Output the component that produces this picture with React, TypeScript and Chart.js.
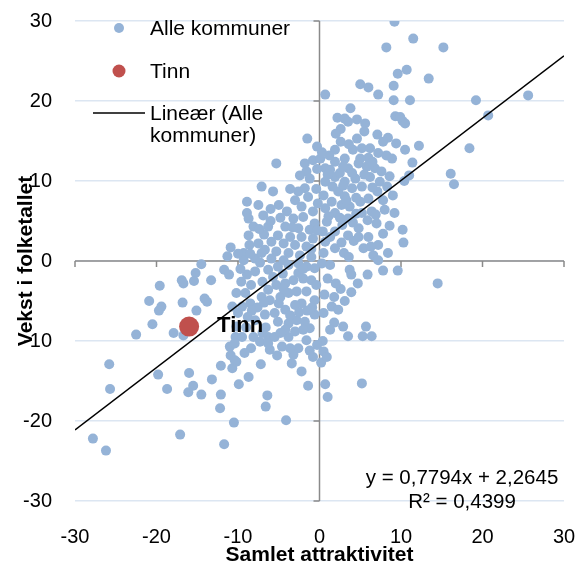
import React, { useEffect, useRef } from "react";
import { Chart, registerables } from "chart.js";

Chart.register(...registerables);

const axisTicks = [-30, -20, -10, 0, 10, 20, 30];

const alleKommuner: [number, number][] = [
  [9.2, 29.9], [8.2, 26.7], [11.5, 27.8], [15.2, 26.7], [10.7, 23.9], [9.6, 23.4], [13.4, 22.8],
  [5.0, 22.1], [6.0, 21.7], [7.2, 20.8], [9.1, 21.9], [9.1, 20.1], [0.7, 20.8], [3.8, 19.1],
  [9.3, 18.1], [2.2, 17.9], [3.1, 17.8], [3.5, 17.4], [4.6, 17.7], [5.6, 17.2], [2.6, 16.5],
  [2.0, 15.9], [-1.5, 15.3], [7.1, 15.8], [8.4, 15.4], [7.8, 14.9], [10.2, 17.5], [11.1, 20.1],
  [19.2, 20.1], [25.6, 20.7], [20.7, 18.2], [10.5, 17.2], [9.9, 18.0],
  [1.9, 13.9], [-0.8, 12.6], [0.1, 12.8], [-1.6, 11.2], [-2.4, 10.7], [0.7, 11.6], [1.9, 12.4],
  [1.3, 11.4], [3.1, 12.8], [4.1, 13.9], [5.2, 14.1], [6.2, 14.1], [7.2, 13.5], [8.2, 13.2],
  [8.9, 12.8], [3.5, 11.6], [4.8, 12.2], [5.8, 11.8], [6.8, 11.6], [7.6, 11.2], [6.2, 10.5],
  [4.4, 10.3], [3.1, 9.9], [1.9, 10.5], [0.7, 9.9], [7.4, 9.9], [5.2, 9.3], [4.0, 9.1],
  [2.3, 8.7], [0.5, 8.2], [1.5, 7.4], [2.7, 7.0], [3.7, 6.8], [5.0, 7.4], [6.0, 7.8],
  [6.4, 6.2], [8.0, 6.4], [7.0, 4.7], [4.8, 4.1], [3.5, 5.3], [1.9, 6.0], [0.7, 6.6],
  [0.9, 4.9], [1.9, 3.7], [3.5, 3.2], [5.4, 1.6], [7.2, 2.0], [6.6, 0.7], [10.2, 3.9],
  [10.3, 2.3], [0.7, 2.4], [1.9, 1.6], [0.5, 1.0], [-5.3, 12.2],
  [10.5, 13.9], [12.2, 14.4], [18.4, 14.1], [11.4, 12.3], [11.0, 10.7], [10.4, 10.0],
  [16.1, 10.9], [16.5, 9.6],
  [2.6, 14.9], [4.6, 15.3], [6.0, 12.9], [2.5, 11.0], [5.5, 10.8], [8.6, 10.6], [3.1, 8.1],
  [7.1, 8.7], [9.0, 8.2], [4.5, 5.9], [5.9, 5.1], [2.8, 4.5], [8.6, 4.4], [1.2, 13.2],
  [9.4, 14.7], [8.3, 9.3], [9.2, 6.0], [4.2, 2.5], [3.0, 1.0], [6.0, 3.0], [7.8, 3.4],
  [4.5, 7.9], [-0.3, 14.3], [5.5, 16.2],
  [1.0, 10.8], [2.9, 11.8], [4.0, 11.0], [5.0, 12.8], [6.5, 12.4], [3.6, 14.6], [0.3, 13.6],
  [1.6, 9.3], [2.9, 9.4], [6.5, 9.2], [7.8, 7.6], [3.3, 7.6], [1.1, 5.6], [2.5, 5.4],
  [4.1, 4.8], [5.2, 6.0], [6.9, 5.8], [1.3, 3.0], [2.7, 2.3], [4.8, 3.0], [6.3, 1.8],
  [3.6, 0.5], [8.4, 1.0], [0.4, 3.7],
  [-7.1, 9.3], [-5.7, 8.7], [-8.9, 7.4], [-8.9, 6.0], [-8.7, 5.3], [-6.9, 5.7], [-8.1, 4.3],
  [-6.3, 4.3], [-8.7, 3.2], [-7.5, 2.2], [-9.3, 1.0], [-1.2, 10.3], [-1.8, 9.1], [-3.0, 7.6],
  [-1.4, 8.0], [-2.2, 6.8], [-0.8, 6.2], [-3.2, 5.3], [-2.0, 5.5], [-0.6, 4.7], [-4.2, 4.3],
  [-2.6, 4.1], [-1.2, 3.9], [-5.1, 3.2], [-3.6, 3.0], [-2.2, 3.0], [-0.8, 2.8], [-5.9, 2.4],
  [-4.4, 2.2], [-3.0, 2.0], [-1.6, 1.8], [-6.7, 1.4], [-5.3, 1.2], [-3.8, 1.0], [-2.4, 0.7],
  [-1.0, 0.5], [-7.9, 0.3], [-5.9, 0.3], [-9.3, 0.1], [-4.4, 0.1], [-10.9, 1.7], [-11.3, 0.6],
  [-10.0, 0.9], [-0.4, 9.0], [-2.6, 8.7], [-0.2, 7.2], [-4.0, 6.2], [-1.0, 1.5], [-6.8, 3.3],
  [-1.8, 12.2], [-0.3, 11.5], [-3.6, 9.0], [-5.0, 7.0], [-6.0, 6.5], [-7.5, 7.0], [-4.8, 5.4],
  [-6.0, 5.0], [-7.4, 4.0], [-3.3, 4.2], [-0.3, 3.8], [-7.1, 1.0], [-8.6, 2.0],
  [-14.5, -0.4], [-15.2, -1.5], [-16.9, -2.4], [-16.7, -2.8], [-19.6, -3.1], [-15.4, -2.5],
  [-13.3, -2.4], [-11.7, -1.1], [-11.1, -1.7], [-20.9, -5.0], [-19.4, -5.7], [-19.7, -6.2],
  [-16.8, -5.2], [-15.1, -6.2], [-14.1, -4.7], [-13.8, -5.1], [-20.5, -7.9], [-22.5, -9.2],
  [-17.9, -9.0], [-16.7, -9.3], [-25.8, -12.9], [-19.8, -14.2], [-16.0, -14.0], [-15.5, -15.6],
  [-13.2, -14.8], [-12.1, -13.1], [-10.7, -13.4], [-10.2, -12.6], [-10.9, -11.8], [-25.7, -16.0],
  [-18.7, -16.0], [-27.8, -22.2], [-26.2, -23.7], [-17.1, -21.7], [-16.1, -16.4], [-14.5, -16.7],
  [-12.1, -16.7], [-12.2, -18.4], [-10.5, -20.2], [-11.7, -22.9], [-9.9, -15.4],
  [-6.4, -16.8], [-6.6, -18.2], [-4.1, -19.9], [-1.4, -15.6], [1.0, -17.0], [0.7, -15.4], [5.2, -15.3],
  [-10.3, -9.5], [-11.0, -10.7], [-10.7, -5.7], [-10.2, -4.0],
  [3.5, -9.4], [5.3, -9.4], [5.7, -8.2], [6.4, -9.4], [0.4, -10.0], [0.5, -11.3], [0.2, -12.7],
  [-2.2, -13.8], [-0.8, -12.0], [-3.4, -12.8], [-3.2, -11.7], [-7.2, -12.9], [-8.7, -14.5],
  [-8.4, -10.9], [-6.1, -11.1], [-10.4, -12.4], [-7.3, -10.1], [-6.3, -9.5], [-1.6, -9.9],
  [-2.6, -10.9], [-3.8, -9.5],
  [1.5, -5.7], [2.3, -6.1], [1.8, -7.7], [1.3, -8.6], [2.6, -3.5], [3.9, -3.9], [4.7, -2.8],
  [5.9, -1.7], [7.8, -1.2], [9.6, -1.2], [7.2, 0.1], [3.7, -1.1], [3.9, -1.7], [1.0, -2.2],
  [0.6, -4.2], [0.5, -6.5], [0.3, -0.3], [1.3, -0.5], [14.5, -2.8],
  [2.0, -2.8], [1.8, -4.5], [3.1, -5.0], [2.9, -8.2], [0.9, -12.0],
  [-8.9, -1.7], [-7.9, -1.3], [-6.3, -1.1], [-5.1, -0.7], [-3.8, -0.5], [-2.6, -0.3], [-1.6, -0.7],
  [-0.6, -0.9], [-9.1, -4.0], [-9.5, -5.7], [-10.0, -6.5], [-8.5, -5.3], [-7.1, -4.5], [-6.3, -3.6],
  [-5.3, -3.0], [-4.2, -2.8], [-3.2, -2.4], [-2.0, -2.2], [-1.0, -2.4], [-6.1, -4.9], [-4.8, -4.5],
  [-3.8, -4.0], [-2.8, -3.8], [-1.6, -3.8], [-0.6, -4.9], [-2.2, -5.3], [-3.0, -5.5], [-4.2, -6.1],
  [-5.5, -6.5], [-6.7, -6.7], [-7.9, -7.4], [-5.1, -7.6], [-3.8, -7.8], [-2.8, -7.4], [-1.8, -7.6],
  [-1.2, -8.4], [-0.6, -6.7], [-4.2, -8.6], [-3.0, -8.8], [-5.5, -9.5], [-6.3, -10.3], [-4.6, -10.7],
  [-3.6, -10.9], [-8.1, -9.5], [-9.5, -9.5], [-10.4, -10.3], [-10.2, -8.2], [-0.3, -10.5],
  [-7.0, -2.6], [-8.4, -3.0], [-5.7, -2.0], [-4.5, -1.6], [-2.6, -1.5], [-0.4, -3.0], [-7.6, -5.8],
  [-8.8, -7.0], [-6.6, -8.3], [-5.0, -5.3], [-2.5, -6.4], [-0.9, -5.8], [-9.6, -2.6], [-9.7, -1.0],
  [-8.5, 0.9], [-7.3, -0.2],
  [-2.0, -1.0], [-4.4, -3.5], [-6.8, -5.2], [-8.3, -6.2], [-3.6, -6.8], [-1.5, -6.2], [-2.0, -8.6],
  [-4.8, -9.0], [-7.0, -9.0], [-9.0, -8.3], [-5.2, -11.8], [-1.2, -11.2], [-9.2, -11.5],
];

const tinnX = [-16.0];
const tinnY = [-8.2];

const trendX = [-30, 30];
const trendY = [-21.12, 25.65];

const seriesNames = ["Alle kommuner", "Tinn", "Lineær (Alle", "kommuner)"];
const tinnLabel = "Tinn";
const equationLines = ["y = 0,7794x + 2,2645", "R² = 0,4399"];
const xTitle = "Samlet attraktivitet";
const yTitle = "Vekst i folketallet";

const FONT = "'Liberation Sans', Arial, sans-serif";
const BLUE = "#95b3d7";
const RED = "#c0504d";

const overlayPlugin = {
  id: "overlay",
  beforeDatasetsDraw(chart: any) {
    const { ctx, scales } = chart;
    const xs = scales.x;
    const ys = scales.y;
    const x0 = xs.getPixelForValue(0);
    const y0 = ys.getPixelForValue(0);
    ctx.save();
    ctx.strokeStyle = "#8a8a8a";
    ctx.lineWidth = 1.5;
    ctx.beginPath();
    ctx.moveTo(xs.left, y0);
    ctx.lineTo(xs.right, y0);
    ctx.moveTo(x0, ys.top);
    ctx.lineTo(x0, ys.bottom);
    for (const t of axisTicks) {
      const px = xs.getPixelForValue(t);
      ctx.moveTo(px, y0);
      ctx.lineTo(px, y0 + 6);
      const py = ys.getPixelForValue(t);
      ctx.moveTo(x0 - 6, py);
      ctx.lineTo(x0, py);
    }
    ctx.stroke();
    ctx.restore();
  },
  afterDatasetsDraw(chart: any) {
    const { ctx, chartArea, scales } = chart;
    const L = chartArea.left;
    const T = chartArea.top;
    ctx.save();
    ctx.textBaseline = "middle";
    ctx.textAlign = "left";
    ctx.font = `21px ${FONT}`;
    ctx.beginPath();
    ctx.fillStyle = BLUE;
    ctx.arc(L + 44, T + 7, 5, 0, Math.PI * 2);
    ctx.fill();
    ctx.beginPath();
    ctx.fillStyle = RED;
    ctx.arc(L + 44, T + 50, 6.5, 0, Math.PI * 2);
    ctx.fill();
    ctx.strokeStyle = "#000";
    ctx.lineWidth = 1.5;
    ctx.beginPath();
    ctx.moveTo(L + 18, T + 92);
    ctx.lineTo(L + 70, T + 92);
    ctx.stroke();
    ctx.fillStyle = "#000";
    ctx.fillText(seriesNames[0], L + 75, T + 8);
    ctx.fillText(seriesNames[1], L + 75, T + 51);
    ctx.fillText(seriesNames[2], L + 75, T + 93);
    ctx.fillText(seriesNames[3], L + 75, T + 115);
    const tx = scales.x.getPixelForValue(tinnX[0]);
    const ty = scales.y.getPixelForValue(tinnY[0]);
    ctx.font = `bold 22px ${FONT}`;
    ctx.fillText(tinnLabel, tx + 28, ty - 1);
    ctx.font = `20.5px ${FONT}`;
    ctx.textAlign = "center";
    ctx.fillText(equationLines[0], chartArea.right - 102, chartArea.bottom - 23);
    ctx.fillText(equationLines[1], chartArea.right - 102, chartArea.bottom + 1);
    ctx.restore();
  },
};

function zeroPadding(scale: any) {
  scale.paddingTop = 0;
  scale.paddingBottom = 0;
  scale.paddingLeft = 0;
  scale.paddingRight = 0;
}

export default function App() {
  const canvasRef = useRef<HTMLCanvasElement | null>(null);

  useEffect(() => {
    if (!canvasRef.current) return;
    const chart = new Chart(canvasRef.current, {
      type: "scatter",
      data: {
        datasets: [
          {
            type: "line",
            label: "Lineær (Alle kommuner)",
            data: trendX.map((x, i) => ({ x, y: trendY[i] })),
            borderColor: "#000",
            borderWidth: 1.5,
            pointRadius: 0,
            fill: false,
            order: 0,
          } as any,
          {
            label: "Tinn",
            data: tinnX.map((x, i) => ({ x, y: tinnY[i] })),
            backgroundColor: RED,
            borderWidth: 0,
            pointRadius: 10,
            order: 1,
          },
          {
            label: "Alle kommuner",
            data: alleKommuner.map(([x, y]) => ({ x, y })),
            backgroundColor: BLUE,
            borderWidth: 0,
            pointRadius: 5,
            order: 2,
          },
        ],
      },
      options: {
        responsive: false,
        animation: false,
        devicePixelRatio: 1,
        layout: { padding: { left: 0, right: 14, top: 21, bottom: 0 } },
        plugins: { legend: { display: false }, tooltip: { enabled: false } },
        scales: {
          x: {
            type: "linear",
            position: "bottom",
            min: -30,
            max: 30,
            grid: { display: false, drawTicks: false },
            border: { display: false },
            ticks: {
              stepSize: 10,
              padding: 24,
              color: "#000",
              font: { family: FONT, size: 20 },
            },
            title: {
              display: true,
              text: xTitle,
              color: "#000",
              font: { family: FONT, size: 21, weight: "bold", lineHeight: 1 },
              padding: { top: 0, bottom: 0 },
            },
            afterFit(scale: any) {
              scale.height = 65;
              zeroPadding(scale);
            },
          },
          y: {
            type: "linear",
            position: "left",
            min: -30,
            max: 30,
            grid: { color: "#dce6f2", lineWidth: 1.5, drawTicks: false },
            border: { display: false },
            ticks: {
              stepSize: 10,
              padding: 23,
              color: "#000",
              font: { family: FONT, size: 20 },
            },
            title: {
              display: true,
              text: yTitle,
              color: "#000",
              font: { family: FONT, size: 21, weight: "bold", lineHeight: 1 },
              padding: { top: 16, bottom: 0 },
            },
            afterFit(scale: any) {
              scale.width = 75;
              zeroPadding(scale);
            },
          },
        },
      },
      plugins: [overlayPlugin],
    });
    return () => chart.destroy();
  }, []);

  return (
    <div style={{ position: "absolute", left: 0, top: 0, width: 578, height: 566, background: "#fff" }}>
      <canvas ref={canvasRef} width={578} height={566} />
    </div>
  );
}
